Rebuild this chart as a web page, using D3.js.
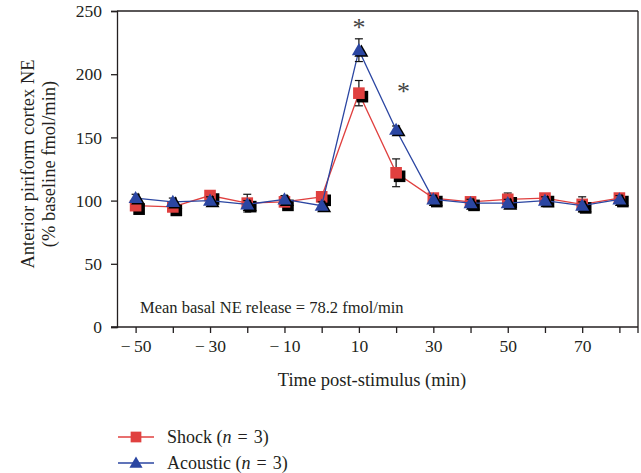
<!DOCTYPE html>
<html>
<head>
<meta charset="utf-8">
<script src="https://cdn.jsdelivr.net/npm/d3@7"></script>
<style>
  body { margin: 0; background: #fff; }
  svg text { font-family: "Liberation Serif", "Times New Roman", "DejaVu Serif", serif !important; fill: #231f20; }
</style>
</head>
<body>
<div id="canvas"></div>
<script>
// time points (min)
const times = [-50, -40, -30, -20, -10, 0, 10, 20, 30, 40, 50, 60, 70, 80];
const shockVals = [96, 95, 104, 98, 99, 103, 185, 122, 102, 99, 101, 102, 97, 102];
const shockErr = [3, 3, 3, 7, 3, 3, 10, 11, 3, 3, 5, 3, 6, 3];
const acousticVals = [102, 99, 100, 97, 101, 96, 219, 156, 101, 98, 98, 100, 96, 101];
const acousticErr = [3, 3, 3, 3, 3, 3, 9, 3, 3, 3, 3, 3, 3, 3];
const xTicks = [-50, -40, -30, -20, -10, 0, 10, 20, 30, 40, 50, 60, 70, 80];
const xLabelled = [-50, -30, -10, 10, 30, 50, 70];
const yTicks = [0, 50, 100, 150, 200, 250];
const stars = [{ t: 10, v: 240 }, { t: 22, v: 189 }];

const width = 641, height = 473;
const margin = { top: 11, left: 117, bottom: 146, right: 3 };
const iwidth = width - margin.left - margin.right;
const iheight = height - margin.top - margin.bottom;

const svg = d3.select("#canvas").append("svg")
  .attr("width", width).attr("height", height);
const g = svg.append("g").attr("transform", `translate(${margin.left},${margin.top})`);

const x = d3.scaleLinear().domain([-55, 85]).range([0, iwidth]);
const y = d3.scaleLinear().domain([0, 250]).range([iheight, 0]);

const red = "#e0403f", blue = "#2b46a2", ink = "#231f20";

// frame top / right
g.append("line").attr("x1", 0).attr("x2", iwidth).attr("y1", 0).attr("y2", 0)
  .attr("stroke", ink).attr("stroke-width", 1.3);
g.append("line").attr("x1", iwidth).attr("x2", iwidth).attr("y1", 0).attr("y2", iheight + 6)
  .attr("stroke", ink).attr("stroke-width", 1.3);

// axes
const xAxis = g.append("g").attr("transform", `translate(0,${iheight})`)
  .call(d3.axisBottom(x).tickValues(xTicks).tickSizeOuter(0).tickSize(6).tickPadding(7)
    .tickFormat(d => xLabelled.includes(d) ? String(d).replace("-", "\u2212\u2009") : ""));
const yAxis = g.append("g")
  .call(d3.axisLeft(y).tickValues(yTicks).tickSizeOuter(0).tickSize(6).tickPadding(9));
[xAxis, yAxis].forEach(a => {
  a.attr("font-family", null).attr("font-size", null);
  a.select(".domain").attr("stroke", ink).attr("stroke-width", 1.3);
  a.selectAll(".tick line").attr("stroke", ink).attr("stroke-width", 1.3);
  a.selectAll("text").attr("font-size", 17.5);
});
xAxis.select(".domain").attr("d", `M-6,0H${iwidth}`);

// axis titles
svg.append("text").attr("x", 372).attr("y", 386)
  .attr("text-anchor", "middle").attr("font-size", 18.5)
  .text("Time post-stimulus (min)");
const yl = svg.append("text").attr("transform", `translate(34,${margin.top + y(129)}) rotate(-90)`)
  .attr("text-anchor", "middle").attr("font-size", 18.5);
yl.append("tspan").attr("x", 0).attr("dy", 0).text("Anterior piriform cortex NE");
yl.append("tspan").attr("x", 0).attr("dy", 21).text("(% baseline fmol/min)");

// annotation
g.append("text").attr("x", 23).attr("y", 302)
  .attr("font-size", 16.5)
  .text("Mean basal NE release = 78.2 fmol/min");

function drawSeries(vals, errs, color, shape) {
  const data = times.map((t, i) => ({ t, v: vals[i], e: errs[i] }));
  const line = d3.line().x(d => x(d.t)).y(d => y(d.v));
  g.append("path").datum(data).attr("d", line)
    .attr("fill", "none").attr("stroke", color).attr("stroke-width", 1.3);
  const eb = g.append("g").attr("stroke", "#111").attr("stroke-width", 1.2);
  data.forEach(d => {
    eb.append("line").attr("x1", x(d.t)).attr("x2", x(d.t))
      .attr("y1", y(d.v + d.e)).attr("y2", y(d.v - d.e));
    [d.v + d.e, d.v - d.e].forEach(v => eb.append("line")
      .attr("x1", x(d.t) - 4).attr("x2", x(d.t) + 4).attr("y1", y(v)).attr("y2", y(v)));
  });
  const isSq = shape === d3.symbolSquare;
  const sym = d3.symbol().type(shape).size(isSq ? 135 : 85);
  const shadow = isSq ? 3.5 : 2.5;
  g.append("g").selectAll("path").data(data).enter().append("path")
    .attr("d", sym).attr("fill", "#000")
    .attr("transform", d => `translate(${x(d.t) + shadow},${y(d.v) + shadow})`);
  g.append("g").selectAll("path").data(data).enter().append("path")
    .attr("d", sym).attr("fill", color)
    .attr("transform", d => `translate(${x(d.t)},${y(d.v) + (isSq ? 0 : 1)})`);
}
drawSeries(shockVals, shockErr, red, d3.symbolSquare);
drawSeries(acousticVals, acousticErr, blue, d3.symbolTriangle);

// significance stars
g.selectAll(".star").data(stars).enter().append("text")
  .attr("x", d => x(d.t)).attr("y", d => y(d.v) + 12)
  .attr("text-anchor", "middle").attr("font-size", 26)
  .style("fill", "#444")
  .text("*");

// legend
const legend = svg.append("g");
const legendItems = [
  { label: "Shock", color: red, shape: d3.symbolSquare, size: 115 },
  { label: "Acoustic", color: blue, shape: d3.symbolTriangle, size: 75 }
];
legendItems.forEach((it, i) => {
  const ly = 437 + i * 26;
  legend.append("line").attr("x1", 118).attr("x2", 154).attr("y1", ly).attr("y2", ly)
    .attr("stroke", it.color).attr("stroke-width", 1.3);
  legend.append("path").attr("d", d3.symbol().type(it.shape).size(it.size))
    .attr("fill", it.color).attr("transform", `translate(136,${ly + (i ? 1 : 0)})`);
  const t = legend.append("text").attr("x", 167).attr("y", ly + 6)
    .attr("font-size", 18);
  t.append("tspan").text(it.label + " (");
  t.append("tspan").attr("font-style", "italic").text("n");
  t.append("tspan").attr("dx", 6).text("=");
  t.append("tspan").attr("dx", 6).text("3)");
});
</script>
</body>
</html>
